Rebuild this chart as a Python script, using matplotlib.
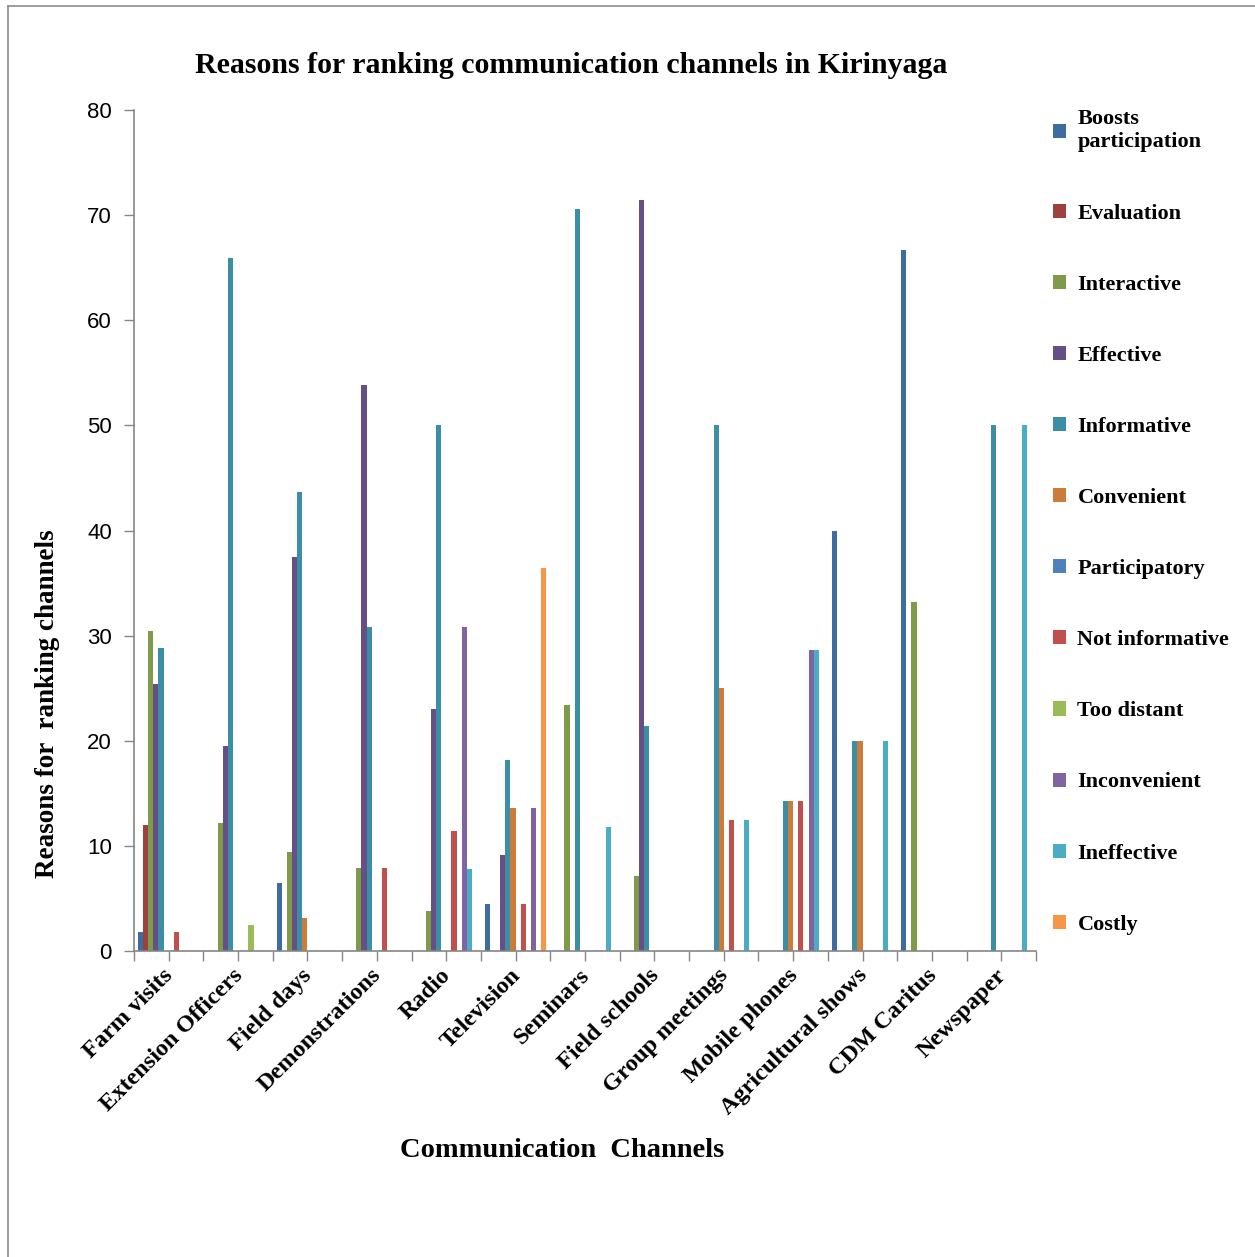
import matplotlib.pyplot as plt
import matplotlib.transforms as mtransforms
import numpy as np
from matplotlib.lines import Line2D

# --- Data ---
categories = ["Farm visits", "Extension Officers", "Field days", "Demonstrations",
              "Radio", "Television", "Seminars", "Field schools", "Group meetings",
              "Mobile phones", "Agricultural shows", "CDM Caritus", "Newspaper"]

boosts_participation = [1.8, 0, 6.5, 0, 0, 4.5, 0, 0, 0, 0, 40.0, 66.7, 0]
evaluation = [12.0, 0, 0, 0, 0, 0, 0, 0, 0, 0, 0, 0, 0]
interactive = [30.4, 12.2, 9.4, 7.9, 3.8, 0, 23.4, 7.1, 0, 0, 0, 33.2, 0]
effective = [25.4, 19.5, 37.5, 53.8, 23.0, 9.1, 0, 71.4, 0, 0, 0, 0, 0]
informative = [28.8, 65.9, 43.7, 30.8, 50.0, 18.2, 70.6, 21.4, 50.0, 14.3, 20.0, 0, 50.0]
convenient = [0, 0, 3.1, 0, 0, 13.6, 0, 0, 25.0, 14.3, 20.0, 0, 0]
participatory = [0, 0, 0, 0, 0, 0, 0, 0, 0, 0, 0, 0, 0]
not_informative = [1.8, 0, 0, 7.9, 11.4, 4.5, 0, 0, 12.5, 14.3, 0, 0, 0]
too_distant = [0, 2.5, 0, 0, 0, 0, 0, 0, 0, 0, 0, 0, 0]
inconvenient = [0, 0, 0, 0, 30.8, 13.6, 0, 0, 0, 28.6, 0, 0, 0]
ineffective = [0, 0, 0, 0, 7.8, 0, 11.8, 0, 12.5, 28.6, 20.0, 0, 50.0]
costly = [0, 0, 0, 0, 0, 36.4, 0, 0, 0, 0, 0, 0, 0]

series_names = ["Boosts\nparticipation", "Evaluation", "Interactive", "Effective",
                "Informative", "Convenient", "Participatory", "Not informative",
                "Too distant", "Inconvenient", "Ineffective", "Costly"]
series_values = [boosts_participation, evaluation, interactive, effective,
                 informative, convenient, participatory, not_informative,
                 too_distant, inconvenient, ineffective, costly]
colors = ["#3F6CA0", "#9E413E", "#7F9A48", "#664F85", "#3B8EA5", "#CD7B38",
          "#4F81BD", "#C0504D", "#9BBB59", "#8064A2", "#4BACC6", "#F79646"]

SERIF = "Liberation Serif"
SANS = "Liberation Sans"

fig = plt.figure(figsize=(12.55, 12.57), dpi=100)
ax = fig.add_axes([0.1068, 0.2434, 0.7187, 0.6691])

# Excel-style clustered bars: gap width 150% of a bar
n_series = len(series_values)
bar_w = 1.0 / (n_series + 1.5)
offset = 0.75 * bar_w
x = np.arange(len(categories))
for j, (name, vals, c) in enumerate(zip(series_names, series_values, colors)):
    ax.bar(x + offset + j * bar_w, vals, width=bar_w, align="edge",
           color=c, linewidth=0, label=name)

ax.set_xlim(0, len(categories))
ax.set_ylim(0, 80)
ax.set_yticks(np.arange(0, 81, 10))

# tick marks at category edges (major) and centres (minor, carrying the labels)
ax.set_xticks(np.arange(0, len(categories) + 1))
ax.set_xticklabels([])
ax.set_xticks(x + 0.5, minor=True)
ax.set_xticklabels(categories, minor=True, rotation=45, ha="right", va="top",
                   rotation_mode="anchor", fontfamily=SERIF, fontweight="bold",
                   fontsize=17.5)
ax.tick_params(axis="x", which="both", direction="out", length=7,
               color="#868686", width=1)
ax.tick_params(axis="x", which="minor", pad=3)
shift = mtransforms.ScaledTranslation(-6 / 100, 0, fig.dpi_scale_trans)
for lab in ax.get_xticklabels(minor=True):
    lab.set_transform(lab.get_transform() + shift)
ax.tick_params(axis="y", direction="out", length=7, color="#868686", width=1,
               labelsize=16, pad=9)
for lab in ax.get_yticklabels():
    lab.set_fontfamily(SANS)

for side in ["top", "right"]:
    ax.spines[side].set_visible(False)
for side in ["left", "bottom"]:
    ax.spines[side].set_color("#868686")
    ax.spines[side].set_linewidth(1.2)

fig.text(0.455, 0.948, "Reasons for ranking communication channels in Kirinyaga",
         ha="center", va="center", fontfamily=SERIF, fontweight="bold", fontsize=21.5)
fig.text(0.448, 0.085, "Communication  Channels", ha="center", va="center",
         fontfamily=SERIF, fontweight="bold", fontsize=20.5)
fig.text(0.038, 0.44, "Reasons for  ranking channels", ha="center", va="center",
         rotation=90, fontfamily=SERIF, fontweight="bold", fontsize=19.5)

leg = fig.legend(loc="upper left", bbox_to_anchor=(0.832, 0.92), frameon=False,
                 prop={"family": SERIF, "weight": "bold", "size": 16},
                 handlelength=0.6, handleheight=0.6, handletextpad=0.5,
                 labelspacing=2.3, borderaxespad=0)

# thin frame lines (left and top) round the picture
fig.add_artist(Line2D([0.0064, 0.0064], [0.0, 0.9952], transform=fig.transFigure,
                      color="#8c8c8c", linewidth=1.2))
fig.add_artist(Line2D([0.0064, 1.0], [0.9952, 0.9952], transform=fig.transFigure,
                      color="#8c8c8c", linewidth=1.2))

fig.savefig("out.png", dpi=100)
